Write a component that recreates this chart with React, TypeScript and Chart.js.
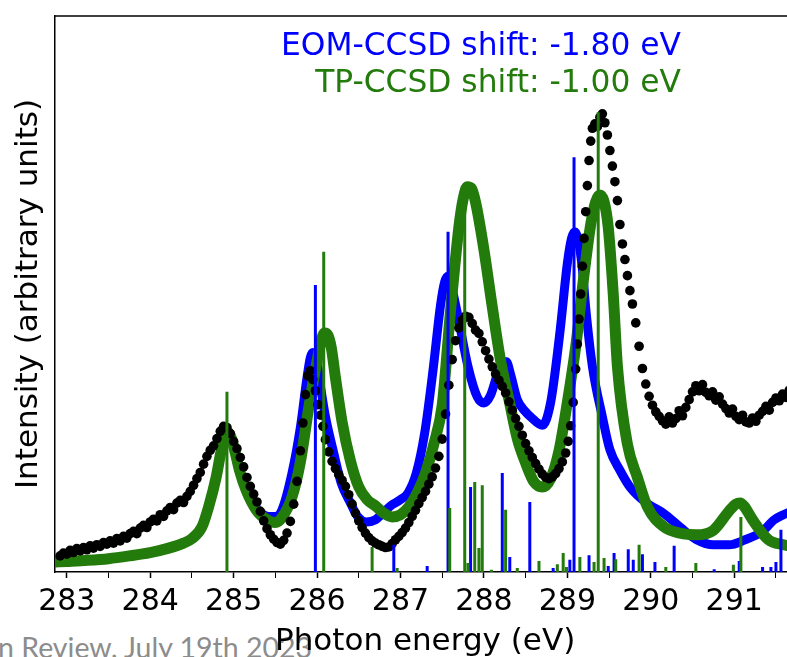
import React, { useEffect, useRef } from 'react';
import { Chart, registerables } from 'chart.js';

Chart.register(...registerables);

const X_MIN = 282.859;
const X_MAX = 291.731;
const X_TICKS = [283, 283.5, 284, 284.5, 285, 285.5, 286, 286.5, 287, 287.5, 288, 288.5, 289, 289.5, 290, 290.5, 291, 291.5];

const X_TITLE = 'Photon energy (eV)';
const Y_TITLE = 'Intensity (arbitrary units)';
const EOM_LABEL = 'EOM-CCSD shift: -1.80 eV';
const TP_LABEL = 'TP-CCSD shift: -1.00 eV';
const FOOTER = 'n Review, July 19th 2023';

// Experimental spectrum (black dots)
const EXP_E = [
  282.92, 282.96, 283.0, 283.04, 283.08, 283.12, 283.16, 283.2, 283.24, 283.28, 283.32, 283.36, 283.4, 283.44, 283.48,
  283.52, 283.56, 283.6, 283.64, 283.68, 283.72, 283.76, 283.8, 283.84, 283.88, 283.92, 283.96, 284.0, 284.04, 284.08,
  284.12, 284.16, 284.2, 284.24, 284.28, 284.32, 284.36, 284.4, 284.44, 284.48, 284.52, 284.56, 284.6, 284.64, 284.68,
  284.72, 284.76, 284.8, 284.84, 284.88, 284.92, 284.96, 285.0, 285.04, 285.08, 285.12, 285.16, 285.2, 285.24, 285.28,
  285.32, 285.36, 285.4, 285.44, 285.48, 285.52, 285.56, 285.6, 285.64, 285.68, 285.72, 285.76, 285.8, 285.83, 285.86,
  285.89, 285.92, 285.95, 285.98, 286.01, 286.04, 286.07, 286.1, 286.14, 286.18, 286.22, 286.26, 286.3, 286.34, 286.38,
  286.42, 286.46, 286.5, 286.54, 286.58, 286.62, 286.66, 286.7, 286.74, 286.78, 286.82, 286.86, 286.9, 286.94, 286.98,
  287.02, 287.06, 287.1, 287.14, 287.18, 287.22, 287.26, 287.3, 287.34, 287.38, 287.42, 287.46, 287.5, 287.54, 287.58,
  287.62, 287.66, 287.7, 287.74, 287.78, 287.82, 287.86, 287.9, 287.94, 287.98, 288.02, 288.06, 288.1, 288.14, 288.18,
  288.22, 288.26, 288.3, 288.34, 288.38, 288.42, 288.46, 288.5, 288.54, 288.58, 288.62, 288.66, 288.7, 288.74, 288.78,
  288.82, 288.86, 288.9, 288.94, 288.98, 289.01, 289.04, 289.07, 289.1, 289.12, 289.14, 289.16, 289.18, 289.2, 289.22,
  289.24, 289.26, 289.28, 289.3, 289.33, 289.36, 289.39, 289.42, 289.45, 289.48, 289.51, 289.54, 289.57, 289.6, 289.63,
  289.66, 289.69, 289.72, 289.75, 289.78, 289.82, 289.86, 289.9, 289.94, 289.98, 290.02, 290.06, 290.1, 290.14, 290.18,
  290.22, 290.26, 290.3, 290.34, 290.38, 290.42, 290.46, 290.5, 290.54, 290.58, 290.62, 290.66, 290.7, 290.74, 290.78,
  290.82, 290.86, 290.9, 290.94, 290.98, 291.02, 291.06, 291.1, 291.14, 291.18, 291.22, 291.26, 291.3, 291.34, 291.38,
  291.42, 291.46, 291.5, 291.54, 291.58, 291.62, 291.66, 291.7,
];
const EXP_I = [
  2.9, 3.4, 3.2, 3.9, 3.5, 4.2, 3.8, 4.4, 4.0, 4.7, 4.3, 4.9, 4.6, 5.3, 5.0,
  5.6, 5.2, 6.0, 5.6, 6.4, 6.1, 6.9, 7.3, 6.9, 7.9, 8.4, 8.0, 9.0, 9.5, 9.2,
  10.3, 10.0, 11.0, 11.6, 11.2, 12.4, 12.9, 12.5, 13.6, 14.5, 15.6, 16.8, 17.9, 19.4, 20.8,
  21.9, 22.7, 24.0, 25.3, 26.2, 26.0, 24.9, 23.5, 22.2, 20.6, 18.9, 17.0, 15.4, 14.0, 12.6,
  10.9, 9.2, 7.8, 6.7, 5.9, 5.3, 5.0, 5.7, 7.0, 9.1, 12.2, 16.3, 21.8, 26.8, 31.9,
  35.3, 36.2, 34.6, 32.6, 30.1, 28.2, 26.2, 23.8, 21.6, 19.9, 18.6, 17.5, 16.5, 15.4, 13.9,
  12.2, 10.6, 9.2, 8.0, 7.0, 6.2, 5.6, 5.2, 4.9, 4.6, 4.4, 4.5, 5.1, 5.8, 6.4,
  7.1, 7.9, 8.9, 10.0, 11.1, 12.3, 13.4, 14.5, 15.8, 17.1, 18.7, 20.8, 23.9, 28.4, 33.6,
  38.2, 41.6, 43.9, 45.3, 46.0, 45.8, 44.7, 43.5, 42.9, 41.4, 39.8, 38.3, 36.9, 35.6, 34.5,
  33.4, 32.2, 30.6, 29.1, 27.6, 26.2, 24.6, 23.1, 21.8, 20.6, 19.5, 18.5, 17.6, 17.0, 16.8,
  17.1, 17.7, 18.6, 19.8, 21.4, 23.5, 26.3, 30.5, 36.5, 41.0, 45.5, 50.0, 55.0, 60.0, 64.8,
  69.5, 74.0, 77.5, 79.8, 80.6, 80.1, 81.8, 82.4, 80.8, 78.6, 75.8, 73.0, 70.2, 66.8, 62.5,
  59.0, 56.2, 53.3, 50.6, 48.2, 44.8, 40.6, 36.6, 33.8, 31.6, 30.0, 28.8, 28.0, 27.2, 26.6,
  27.9, 26.8, 27.6, 29.0, 28.1, 29.6, 31.0, 32.4, 33.5, 32.6, 33.7, 32.3, 31.7, 32.4, 30.9,
  31.5, 30.2, 29.4, 28.6, 29.3, 28.0, 27.4, 28.2, 27.0, 26.8, 27.7, 27.1, 28.2, 28.9, 29.8,
  29.1, 30.5, 31.3, 30.8, 32.0, 31.4, 32.7, 33.2,
];

// EOM-CCSD broadened spectrum (blue)
const EOM_E = [
  282.86, 283.0, 283.25, 283.5, 283.75, 284.0, 284.2, 284.4, 284.5, 284.62, 284.7, 284.79, 284.85, 284.89, 284.93,
  284.97, 285.02, 285.07, 285.15, 285.27, 285.42, 285.5, 285.58, 285.7, 285.8, 285.88, 285.92, 285.95, 285.99, 286.05,
  286.1, 286.2, 286.29, 286.4, 286.49, 286.59, 286.7, 286.79, 286.89, 287.0, 287.09, 287.19, 287.29, 287.39, 287.48,
  287.53, 287.57, 287.62, 287.69, 287.81, 287.92, 288.0, 288.08, 288.17, 288.22, 288.27, 288.32, 288.4, 288.5, 288.56,
  288.7, 288.8, 288.91, 289.0, 289.05, 289.09, 289.13, 289.18, 289.22, 289.3, 289.42, 289.51, 289.63, 289.75, 289.95,
  290.15, 290.35, 290.55, 290.75, 290.94, 291.13, 291.33, 291.48, 291.59, 291.73,
];
const EOM_I = [
  1.8, 1.9, 2.1, 2.4, 2.9, 3.5, 4.2, 5.2, 6.0, 8.1, 11.7, 17.0, 21.8, 24.4, 25.2,
  24.2, 21.4, 18.3, 14.7, 11.6, 10.0, 10.0, 11.2, 17.8, 26.0, 35.0, 38.6, 39.5, 38.4, 32.5,
  28.0, 21.4, 16.0, 12.4, 9.9, 9.0, 9.4, 10.6, 12.0, 13.0, 14.2, 17.8, 25.0, 36.3, 48.0,
  52.2, 53.2, 50.8, 45.9, 36.9, 31.5, 30.4, 31.8, 36.0, 37.8, 37.8, 35.5, 31.0, 28.8, 27.9,
  26.4, 30.5, 43.0, 55.5, 60.0, 61.2, 59.8, 54.5, 47.5, 37.0, 27.9, 22.0, 18.3, 15.3, 12.4,
  10.6, 8.1, 5.8, 4.9, 4.9, 5.8, 7.2, 9.4, 10.3, 11.2,
];

// TP-CCSD broadened spectrum (green)
const TP_E = [
  282.86, 283.0, 283.25, 283.5, 283.75, 284.0, 284.2, 284.4, 284.5, 284.62, 284.7, 284.79, 284.85, 284.89, 284.93,
  284.97, 285.02, 285.07, 285.15, 285.27, 285.42, 285.5, 285.58, 285.7, 285.8, 285.9, 286.0, 286.05, 286.09, 286.13,
  286.17, 286.22, 286.3, 286.4, 286.5, 286.6, 286.7, 286.8, 286.9, 287.0, 287.1, 287.2, 287.3, 287.4, 287.5,
  287.6, 287.7, 287.75, 287.8, 287.85, 287.9, 288.0, 288.1, 288.2, 288.3, 288.4, 288.5, 288.6, 288.7, 288.8,
  288.9, 289.0, 289.1, 289.2, 289.28, 289.34, 289.39, 289.44, 289.49, 289.55, 289.6, 289.72, 289.84, 289.96, 290.16,
  290.35, 290.55, 290.75, 290.94, 291.02, 291.07, 291.12, 291.22, 291.41, 291.59, 291.73,
];
const TP_I = [
  1.8, 1.9, 2.1, 2.4, 2.9, 3.5, 4.2, 5.2, 6.0, 8.1, 11.7, 17.0, 21.8, 24.4, 25.2,
  24.2, 21.4, 18.3, 14.7, 11.2, 9.2, 8.9, 9.8, 13.5, 19.8, 29.5, 38.0, 41.6, 43.0, 42.6,
  40.4, 35.0, 27.0, 20.0, 15.3, 13.0, 11.9, 10.6, 9.9, 10.3, 11.7, 14.2, 17.8, 23.0, 30.0,
  47.0, 62.0, 67.0, 69.3, 69.0, 66.5, 58.0, 47.7, 38.0, 31.0, 24.0, 19.6, 16.2, 15.3, 16.8,
  21.8, 30.5, 40.5, 53.5, 62.5, 66.6, 67.8, 66.6, 62.0, 50.0, 37.0, 23.0, 17.0, 11.7, 8.1,
  7.0, 6.7, 7.5, 11.0, 12.2, 12.4, 11.8, 9.4, 5.8, 4.9, 4.5,
];

// Transition sticks
const EOM_STICK_E = [
  285.98, 286.92, 287.32, 287.57, 287.84, 288.22, 288.31, 288.55, 288.83, 289.03, 289.08, 289.26, 289.49, 289.56, 289.73,
  289.79, 289.90, 290.05, 290.28, 290.76, 291.06, 291.34, 291.44, 291.50, 291.56,
];
const EOM_STICK_H = [
  51.6, 4.9, 1.1, 61.2, 15.3, 17.8, 2.7, 12.6, 0.7, 2.2, 74.6, 3.0, 1.1, 3.4, 4.1,
  2.2, 3.2, 1.8, 4.7, 0.5, 2.0, 0.9, 0.9, 1.8, 7.6,
];
const TP_STICK_E = [
  284.92, 286.08, 286.66, 286.96, 287.59, 287.77, 287.81, 287.89, 287.94, 287.98, 288.09, 288.26, 288.40, 288.66, 288.88,
  288.95, 288.99, 289.15, 289.32, 289.37, 289.44, 289.58, 289.86, 290.18, 290.54, 290.99, 291.08,
];
const TP_STICK_H = [
  32.4, 57.6, 4.5, 0.7, 11.5, 69.6, 1.6, 16.2, 4.3, 15.6, 0.4, 11.2, 0.7, 2.0, 1.4,
  3.4, 0.9, 2.7, 1.8, 82.7, 2.5, 2.3, 4.9, 0.9, 1.6, 1.3, 9.9,
];

const BLUE = '#0000ff';
const GREEN = '#237b0b';
const FONT = "'DejaVu Sans', sans-serif";

const pairs = (xs: number[], ys: number[]) => xs.map((x, i) => ({ x, y: ys[i] }));
const sticks = (xs: number[], hs: number[]) =>
  xs.flatMap((x, i) => [
    { x, y: 0 },
    { x, y: hs[i] },
    { x, y: null as any },
  ]);

const framePlugin = {
  id: 'frameTop',
  afterDatasetsDraw(chart: any) {
    const { ctx, chartArea } = chart;
    ctx.save();
    ctx.strokeStyle = '#000';
    ctx.lineWidth = 1.5;
    ctx.beginPath();
    ctx.moveTo(chartArea.left, chartArea.top);
    ctx.lineTo(chartArea.right, chartArea.top);
    ctx.stroke();
    ctx.restore();
  },
};

export default function App() {
  const ref = useRef<HTMLCanvasElement | null>(null);

  useEffect(() => {
    if (!ref.current) return;
    const chart = new Chart(ref.current, {
      type: 'scatter',
      data: {
        datasets: [
          {
            data: sticks(TP_STICK_E, TP_STICK_H),
            showLine: true,
            spanGaps: false,
            borderColor: GREEN,
            borderWidth: 3,
            pointRadius: 0,
            tension: 0,
          },
          {
            data: sticks(EOM_STICK_E, EOM_STICK_H),
            showLine: true,
            spanGaps: false,
            borderColor: BLUE,
            borderWidth: 3,
            pointRadius: 0,
            tension: 0,
          },
          {
            data: pairs(EXP_E, EXP_I),
            showLine: false,
            pointRadius: 4.8,
            pointBackgroundColor: '#000',
            pointBorderWidth: 0,
            borderColor: '#000',
          },
          {
            data: pairs(TP_E, TP_I),
            showLine: true,
            borderColor: GREEN,
            borderWidth: 11,
            pointRadius: 0,
            cubicInterpolationMode: 'monotone',
            borderJoinStyle: 'round',
            borderCapStyle: 'round',
          },
          {
            data: pairs(EOM_E, EOM_I),
            showLine: true,
            borderColor: BLUE,
            borderWidth: 9,
            pointRadius: 0,
            cubicInterpolationMode: 'monotone',
            borderJoinStyle: 'round',
            borderCapStyle: 'round',
          },
        ] as any,
      },
      options: {
        animation: false,
        responsive: false,
        events: [],
        layout: { padding: { top: 16, right: 0, left: 0, bottom: 0 } },
        plugins: { legend: { display: false }, tooltip: { enabled: false } },
        scales: {
          x: {
            type: 'linear',
            min: X_MIN,
            max: X_MAX,
            afterBuildTicks: (s: any) => {
              s.ticks = X_TICKS.map((v) => ({ value: v }));
            },
            afterFit: (s: any) => {
              s.height = 85;
            },
            ticks: {
              autoSkip: false,
              maxRotation: 0,
              minRotation: 0,
              color: '#000',
              padding: 6,
              font: { family: FONT, size: 30 },
              callback: (v: any) => (Number(v) % 1 === 0 ? String(v) : ''),
            },
            grid: {
              display: true,
              drawOnChartArea: false,
              drawTicks: true,
              tickLength: 6,
              tickColor: '#000',
              tickWidth: (c: any) => (c.tick && c.tick.value % 1 === 0 ? 1.5 : 1),
            },
            border: { display: true, color: '#000', width: 1.5 },
            title: {
              display: true,
              text: X_TITLE,
              color: '#000',
              font: { family: FONT, size: 31, lineHeight: 1 },
              padding: { top: 0, bottom: 0 },
            },
          },
          y: {
            min: 0,
            max: 100,
            afterFit: (s: any) => {
              s.width = 55;
            },
            ticks: { display: false },
            grid: { display: false },
            border: { display: true, color: '#000', width: 1.5 },
            title: {
              display: true,
              text: Y_TITLE,
              color: '#000',
              font: { family: FONT, size: 31 },
              padding: { top: 10, bottom: 0 },
            },
          },
        },
      } as any,
      plugins: [framePlugin],
    });
    return () => chart.destroy();
  }, []);

  return (
    <div style={{ position: 'absolute', left: 0, top: 0, width: 787, height: 657, overflow: 'hidden', background: '#fff' }}>
      <div
        style={{
          position: 'absolute',
          left: -2,
          top: 633,
          fontFamily: 'Lato, sans-serif',
          fontSize: 28.5,
          lineHeight: 1,
          color: '#8c8c8c',
          whiteSpace: 'nowrap',
        }}
      >
        {FOOTER}
      </div>
      <canvas ref={ref} width={800} height={657} style={{ position: 'absolute', left: 0, top: 0, display: 'block' }} />
      <div
        style={{
          position: 'absolute',
          left: 0,
          width: 681,
          top: 29,
          textAlign: 'right',
          fontFamily: FONT,
          fontSize: 31.3,
          lineHeight: 1,
          color: BLUE,
          whiteSpace: 'nowrap',
        }}
      >
        {EOM_LABEL}
      </div>
      <div
        style={{
          position: 'absolute',
          left: 0,
          width: 681,
          top: 66,
          textAlign: 'right',
          fontFamily: FONT,
          fontSize: 31.3,
          lineHeight: 1,
          color: GREEN,
          whiteSpace: 'nowrap',
        }}
      >
        {TP_LABEL}
      </div>
    </div>
  );
}
